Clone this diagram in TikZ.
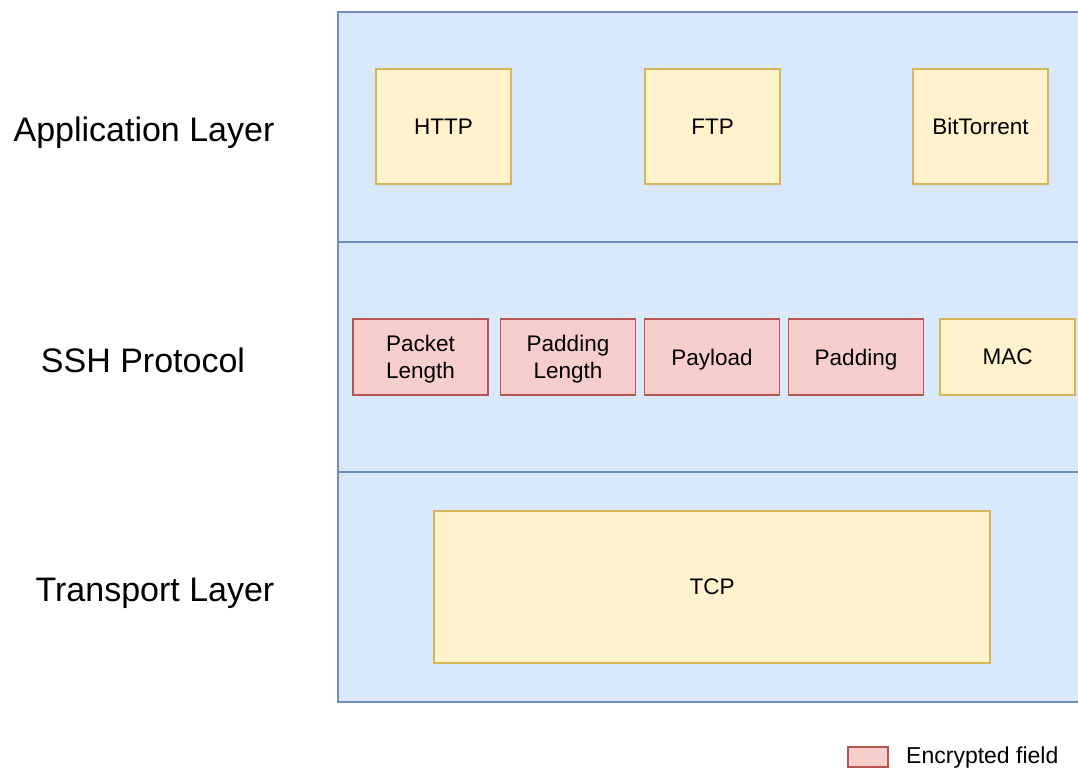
\documentclass[tikz,border=0pt]{standalone}
\usepackage{fontspec}
\setmainfont{Liberation Sans}
\definecolor{layerfill}{HTML}{DAE8FC}
\definecolor{layerdraw}{HTML}{6C8EBF}
\definecolor{plainfill}{HTML}{FFF2CC}
\definecolor{plaindraw}{HTML}{D6B656}
\definecolor{encfill}{HTML}{F8CECC}
\definecolor{encdraw}{HTML}{B85450}
\tikzset{
  layer/.style={draw=layerdraw, fill=layerfill, line width=1.5pt, minimum width=752pt, minimum height=230pt, inner sep=0pt},
  boxtext/.style={line width=1.5pt, inner sep=0pt, align=center, text depth=0pt, font=\fontsize{22.5}{27}\selectfont},
  plainbox/.style={boxtext, draw=plaindraw, fill=plainfill},
  encbox/.style={boxtext, draw=encdraw, fill=encfill},
  layerlabel/.style={font=\fontsize{34}{40}\selectfont, inner sep=0pt, anchor=base},
  fieldbox/.style={minimum width=135pt, minimum height=76pt},
}
\begin{document}
\begin{tikzpicture}[x=1pt,y=-1pt]
\path[use as bounding box] (0,0) rectangle (1078,769);
\clip (0,0) rectangle (1078,769);
\fill[white] (0,0) rectangle (1078,769);

% protocol stack layers
\node[layer] (app) at (714,127) {};
\node[layer] (ssh) at (714,357) {};
\node[layer] (tr)  at (714,587) {};

% layer names
\node[layerlabel] (applbl) at (144,141) {Application Layer};
\node[layerlabel] (sshlbl) at (143,372) {SSH Protocol};
\node[layerlabel] (trlbl)  at (155,601) {Transport Layer};

% application protocols
\node[plainbox, minimum width=135pt, minimum height=115pt] (http) at (443.5,126.5) {HTTP};
\node[plainbox, minimum width=135pt, minimum height=115pt] (ftp)  at (712.5,126.5) {FTP};
\node[plainbox, minimum width=135pt, minimum height=115pt] (bt)   at (980.5,126.5) {BitTorrent};

% SSH binary packet fields
\node[encbox, fieldbox] (plen) at (420.5,357) {Packet\\Length};
\node[encbox, fieldbox] (padlen) at (568,357) {Padding\\Length};
\node[encbox, fieldbox] (payload) at (712,357) {Payload};
\node[encbox, fieldbox] (padding) at (856,357) {Padding};
\node[plainbox, fieldbox] (mac) at (1007.5,357) {MAC};

% transport
\node[plainbox, minimum width=556pt, minimum height=152pt] (tcp) at (712,587) {TCP};

% legend
\node[encbox, minimum width=40pt, minimum height=20pt] (legbox) at (868,757) {};
\node[anchor=base west, inner sep=0pt, font=\fontsize{23}{27}\selectfont] (legtxt) at (906,763) {Encrypted field};
\end{tikzpicture}
\end{document}
